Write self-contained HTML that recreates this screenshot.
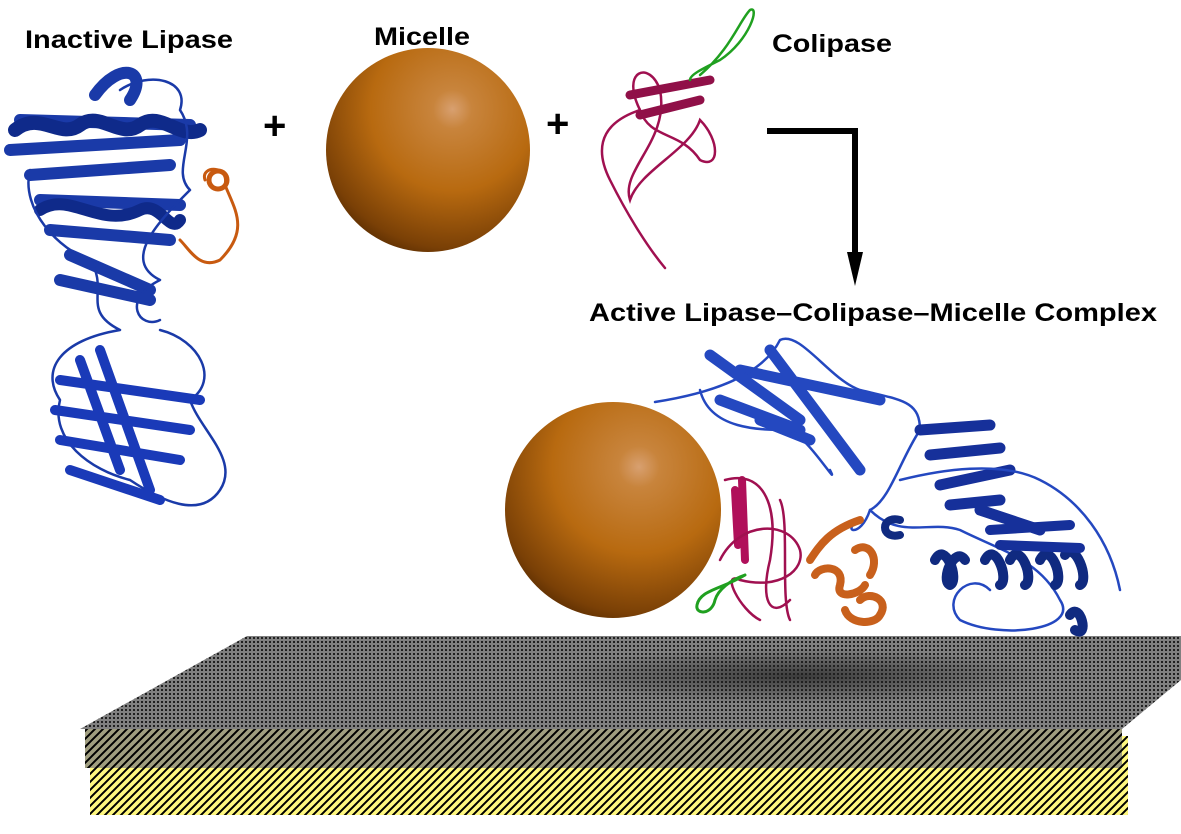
<!DOCTYPE html>
<html><head><meta charset="utf-8"><style>
html,body{margin:0;padding:0;background:#fff;width:1181px;height:834px;overflow:hidden}
svg{display:block}
text{font-family:"Liberation Sans",sans-serif;font-weight:bold;fill:#000}
</style></head><body>
<svg width="1181" height="834" viewBox="0 0 1181 834">
<defs>
<pattern id="dots" width="4" height="4" patternUnits="userSpaceOnUse">
<rect width="4" height="4" fill="#808080"/><rect x="1" y="1" width="2" height="2" fill="#202020"/>
</pattern>
<pattern id="hatchO" width="8" height="8" patternUnits="userSpaceOnUse">
<rect width="8" height="8" fill="#a09e80"/><path d="M-2,10 L10,-2 M-2,2 L2,-2 M6,10 L10,6" stroke="#000" stroke-width="2"/>
</pattern>
<pattern id="hatchY" width="8" height="8" patternUnits="userSpaceOnUse">
<rect width="8" height="8" fill="#fff880"/><path d="M-2,10 L10,-2 M-2,2 L2,-2 M6,10 L10,6" stroke="#000" stroke-width="2"/>
</pattern>
<radialGradient id="sph" cx="0.62" cy="0.3" r="0.8">
<stop offset="0" stop-color="#d8a070"/><stop offset="0.12" stop-color="#c8843c"/><stop offset="0.5" stop-color="#b86a10"/><stop offset="0.85" stop-color="#7a4006"/><stop offset="1" stop-color="#4a2400"/>
</radialGradient>
<radialGradient id="shd" cx="0.5" cy="0.5" r="0.5">
<stop offset="0" stop-color="#202020" stop-opacity="0.7"/><stop offset="1" stop-color="#202020" stop-opacity="0"/>
</radialGradient>
</defs>

<!-- surface -->
<rect x="90" y="736" width="1038" height="79" fill="url(#hatchY)"/>
<rect x="85" y="729" width="1037" height="39" fill="url(#hatchO)"/>
<polygon points="247,636 1181,636 1181,680 1122,729 80,729" fill="url(#dots)"/>
<ellipse cx="800" cy="676" rx="250" ry="28" fill="url(#shd)"/>

<!-- labels -->
<text x="25" y="48" font-size="25" textLength="208" lengthAdjust="spacingAndGlyphs">Inactive Lipase</text>
<text x="374" y="45" font-size="25" textLength="96" lengthAdjust="spacingAndGlyphs">Micelle</text>
<text x="772" y="52" font-size="25" textLength="120" lengthAdjust="spacingAndGlyphs">Colipase</text>
<text x="589" y="321" font-size="25" textLength="568" lengthAdjust="spacingAndGlyphs">Active Lipase–Colipase–Micelle Complex</text>
<text x="263" y="139" font-size="40">+</text>
<text x="546" y="137" font-size="40">+</text>

<!-- arrow -->
<path d="M767,131 H855 V255" fill="none" stroke="#000" stroke-width="6"/>
<polygon points="847,252 863,252 855,286" fill="#000"/>

<!-- spheres -->
<circle cx="428" cy="150" r="102" fill="url(#sph)"/>
<circle cx="613" cy="510" r="108" fill="url(#sph)"/>

<!-- inactive lipase -->
<g fill="none" stroke-linecap="round" stroke-linejoin="round">
<path d="M95,95 C120,60 150,70 130,100 M20,120 L190,125 M10,150 L180,140 M30,175 L170,165 M40,200 L180,205 M50,230 L170,240 M70,255 L150,290 M60,280 L150,300" stroke="#1a3aa8" stroke-width="12"/>
<path d="M15,130 C40,110 60,140 80,125 C100,110 120,140 140,125 C160,110 180,140 200,130" stroke="#0f2a8a" stroke-width="14"/>
<path d="M40,210 C70,190 100,230 140,210 C160,200 170,235 180,220" stroke="#0f2a8a" stroke-width="12"/>
<path d="M30,170 C20,210 60,250 90,260 C110,290 80,310 120,330 C60,340 40,370 60,400 C50,440 90,470 130,480 C160,500 200,520 220,490 C240,460 200,430 190,400 C220,380 200,340 160,330" stroke="#1a3aa8" stroke-width="2.5"/>
<path d="M60,380 L200,400 M55,410 L190,430 M60,440 L180,460 M80,360 L120,470 M100,350 L150,490 M70,470 L160,500" stroke="#1a3ab8" stroke-width="10"/>
<path d="M120,90 C150,70 190,80 180,110 C200,140 170,170 190,190 C160,220 120,260 160,280 C120,300 140,330 160,320" stroke="#1a3aa8" stroke-width="2.5"/>
<path d="M205,180 C200,165 230,165 225,185 C235,210 250,230 220,260 C200,270 190,250 180,240" stroke="#c85a10" stroke-width="3"/>
<circle cx="218" cy="180" r="9" stroke="#c85a10" stroke-width="5"/>
</g>

<!-- colipase free -->
<g fill="none" stroke-linecap="round">
<path d="M640,110 C620,70 650,60 660,90 C670,140 620,170 630,200 C640,170 690,150 700,120 C720,140 720,170 700,160 C680,130 650,140 640,110 C610,120 590,140 610,180 C630,220 650,250 665,268" stroke="#a01050" stroke-width="2.5"/>
<path d="M630,95 L710,80 M640,115 L700,100" stroke="#901048" stroke-width="9"/>
<path d="M700,75 C730,50 740,20 750,10 C760,5 750,40 720,60 C700,70 690,75 690,80" stroke="#20a020" stroke-width="2.5"/>
</g>

<!-- complex lipase -->
<g fill="none" stroke-linecap="round" stroke-linejoin="round">
<path d="M710,355 L800,420 M740,370 L880,400 M770,350 L860,470 M720,400 L800,430 M760,420 L810,440" stroke="#2448c0" stroke-width="11"/>
<path d="M655,402 C700,395 760,380 780,340 C800,330 830,380 860,390 C900,400 920,400 920,430 C900,460 890,500 870,510 C860,540 840,530 860,520 M700,390 C710,430 760,430 790,430 C810,440 840,490 830,470" stroke="#2448c0" stroke-width="2.5"/>
<path d="M920,430 L990,425 M930,455 L1000,448 M940,485 L1010,470 M950,505 L1000,500 M980,510 L1040,530" stroke="#16309a" stroke-width="11"/>
<path d="M900,480 C940,470 1000,460 1040,480 C1080,500 1110,540 1120,590 M870,510 C900,540 930,520 960,530 C1000,550 1040,560 1060,600 C1080,630 1000,640 960,620 C940,600 970,570 990,590" stroke="#2448c0" stroke-width="2.5"/>
<path d="M935,560 C945,540 960,580 950,585 C940,580 955,545 965,560 M985,560 C995,540 1010,580 1000,585 M1010,560 C1020,540 1035,580 1025,585 M1040,560 C1050,540 1065,580 1055,585 M1065,555 C1075,540 1090,580 1080,585 M1070,615 C1080,600 1090,640 1075,630" stroke="#102a80" stroke-width="10"/>
<path d="M990,530 L1070,525 M1000,545 L1080,548" stroke="#16309a" stroke-width="10"/>
<path d="M900,520 C880,515 880,540 900,535" stroke="#102a80" stroke-width="8"/>
<path d="M742,480 L745,560 M735,490 L738,545" stroke="#b0105a" stroke-width="8"/>
<path d="M720,560 C740,520 790,520 800,550 C805,570 780,590 740,580 C720,570 740,610 760,620 M780,500 C790,520 780,600 790,620 M725,480 C760,470 780,500 770,560 C760,600 770,620 790,600" stroke="#a01050" stroke-width="2.5"/>
<path d="M745,575 C720,590 700,590 697,605 C695,615 712,615 715,600 C718,590 730,580 745,575" stroke="#20a020" stroke-width="3"/>
<path d="M860,520 C830,530 820,545 810,560 M815,575 C820,565 845,565 840,585 C835,600 860,595 865,585 M855,550 C870,540 880,560 870,575 M860,600 C870,590 890,600 880,615 C875,625 850,625 845,610" stroke="#c8601c" stroke-width="8"/>
</g>
</svg>
</body></html>
